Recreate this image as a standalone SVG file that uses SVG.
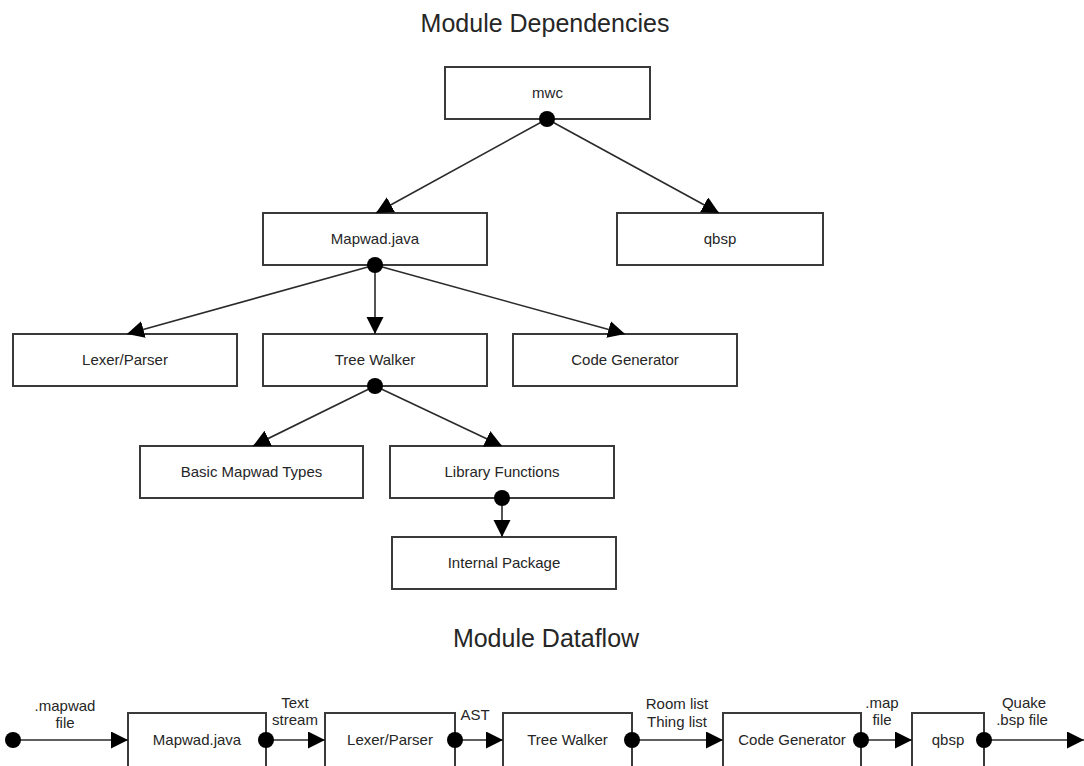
<svg xmlns="http://www.w3.org/2000/svg" width="1084" height="766" viewBox="0 0 1084 766">
<defs>
<style>
.box{fill:#fff;stroke:#3a3a3a;stroke-width:2}
.lbl{font-family:"Liberation Sans",Arial,sans-serif;font-size:15px;fill:#262626;text-anchor:middle}
.title{font-family:"Liberation Sans",Arial,sans-serif;font-size:25px;fill:#262626;text-anchor:middle}
.con{stroke:#2a2a2a;stroke-width:1.6;fill:none;marker-end:url(#arr)}
.dot{fill:#000}
</style>
<marker id="arr" markerUnits="userSpaceOnUse" markerWidth="18" markerHeight="18" refX="17" refY="8.5" orient="auto">
<path d="M0,0 L17,8.5 L0,17 z" fill="#000"/>
</marker>
</defs>
<rect width="1084" height="766" fill="#fff"/>
<text class="title" x="545" y="32">Module Dependencies</text>
<text class="title" x="546" y="647">Module Dataflow</text>

<g id="n-mwc"><rect class="box" x="445" y="67" width="205" height="52"/><text class="lbl" x="547.5" y="98">mwc</text></g>
<g id="n-mapwad"><rect class="box" x="263" y="213" width="224" height="52"/><text class="lbl" x="375" y="244">Mapwad.java</text></g>
<g id="n-qbsp"><rect class="box" x="617" y="213" width="206" height="52"/><text class="lbl" x="720" y="244">qbsp</text></g>
<g id="n-lexer"><rect class="box" x="13" y="334" width="224" height="52"/><text class="lbl" x="125" y="365">Lexer/Parser</text></g>
<g id="n-tree"><rect class="box" x="263" y="334" width="224" height="52"/><text class="lbl" x="375" y="365">Tree Walker</text></g>
<g id="n-codegen"><rect class="box" x="513" y="334" width="224" height="52"/><text class="lbl" x="625" y="365">Code Generator</text></g>
<g id="n-basic"><rect class="box" x="140" y="446" width="223" height="52"/><text class="lbl" x="251.5" y="477">Basic Mapwad Types</text></g>
<g id="n-lib"><rect class="box" x="390" y="446" width="224" height="52"/><text class="lbl" x="502" y="477">Library Functions</text></g>
<g id="n-internal"><rect class="box" x="392" y="537" width="224" height="52"/><text class="lbl" x="504" y="568">Internal Package</text></g>

<g id="f-mapwad"><rect class="box" x="128" y="713" width="138" height="60"/><text class="lbl" x="197" y="745">Mapwad.java</text></g>
<g id="f-lexer"><rect class="box" x="325" y="713" width="130" height="60"/><text class="lbl" x="390" y="745">Lexer/Parser</text></g>
<g id="f-tree"><rect class="box" x="503" y="713" width="129" height="60"/><text class="lbl" x="567.5" y="745">Tree Walker</text></g>
<g id="f-codegen"><rect class="box" x="723" y="713" width="138" height="60"/><text class="lbl" x="792" y="745">Code Generator</text></g>
<g id="f-qbsp"><rect class="box" x="912" y="713" width="72" height="60"/><text class="lbl" x="948" y="745">qbsp</text></g>

<g id="connectors">
<line class="con" x1="547" y1="119" x2="376" y2="213"/>
<line class="con" x1="547" y1="119" x2="719" y2="213"/>
<line class="con" x1="375" y1="265" x2="127" y2="334"/>
<line class="con" x1="375" y1="265" x2="375" y2="334"/>
<line class="con" x1="375" y1="265" x2="625" y2="334"/>
<line class="con" x1="375" y1="386" x2="253" y2="446"/>
<line class="con" x1="375" y1="386" x2="502" y2="446"/>
<line class="con" x1="502" y1="498" x2="502" y2="537"/>
<line class="con" x1="13" y1="740" x2="128" y2="740"/>
<line class="con" x1="266" y1="740" x2="325" y2="740"/>
<line class="con" x1="455" y1="740" x2="503" y2="740"/>
<line class="con" x1="632" y1="740" x2="723" y2="740"/>
<line class="con" x1="861" y1="740" x2="912" y2="740"/>
<line class="con" x1="984" y1="740" x2="1084" y2="740"/>
<g class="dot">
<circle cx="547" cy="119" r="8"/>
<circle cx="375" cy="265" r="8"/>
<circle cx="375" cy="386" r="8"/>
<circle cx="502" cy="498" r="8"/>
<circle cx="13" cy="740" r="8"/>
<circle cx="266" cy="740" r="8"/>
<circle cx="455" cy="740" r="8"/>
<circle cx="632" cy="740" r="8"/>
<circle cx="861" cy="740" r="8"/>
<circle cx="984" cy="740" r="8"/>
</g>
<g class="lbl">
<text class="lbl" x="65" y="711">.mapwad</text>
<text class="lbl" x="65" y="728">file</text>
<text class="lbl" x="295" y="708">Text</text>
<text class="lbl" x="295" y="725">stream</text>
<text class="lbl" x="475" y="720">AST</text>
<text class="lbl" x="677" y="709">Room list</text>
<text class="lbl" x="677" y="727">Thing list</text>
<text class="lbl" x="882" y="708">.map</text>
<text class="lbl" x="882" y="725">file</text>
<text class="lbl" x="1024" y="708">Quake</text>
<text class="lbl" x="1022" y="725">.bsp file</text>
</g>
</g>
</svg>
